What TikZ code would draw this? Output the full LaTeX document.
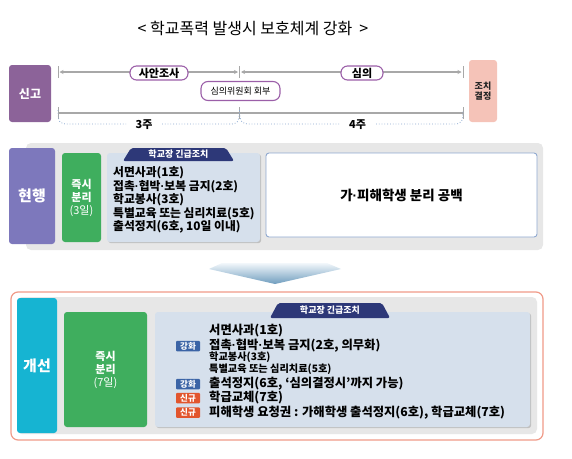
\documentclass[tikz,border=0pt]{standalone}
\usepackage{fontspec}
\setmainfont{Noto Sans CJK KR}
\newfontfamily\dotfont{Liberation Sans}
\newcommand\mdot{{\dotfont ·}}
\usetikzlibrary{shadows,arrows.meta}
\definecolor{singo}{HTML}{8C6399}
\definecolor{jochi}{HTML}{F5C3B8}
\definecolor{pillc}{HTML}{9B5FA8}
\definecolor{linec}{HTML}{A8A8A8}
\definecolor{hyeon}{HTML}{7D78BC}
\definecolor{greenc}{HTML}{3FAE5E}
\definecolor{lblue}{HTML}{D6E0EC}
\definecolor{navy}{HTML}{2D3878}
\definecolor{wborder}{HTML}{8FA8CF}
\definecolor{graybg}{HTML}{E7E7E7}
\definecolor{cyanc}{HTML}{16B4D2}
\definecolor{salmon}{HTML}{F09A88}
\definecolor{ganghwa}{HTML}{3B64A6}
\definecolor{singyu}{HTML}{E2552D}
\definecolor{bracec}{HTML}{8AA8D0}
\definecolor{arrtop}{HTML}{F2F7FB}
\definecolor{arrbot}{HTML}{6F9DBE}
\begin{document}
\begin{tikzpicture}[x=1pt,y=-1pt,
  fbox/.style={rounded corners=3pt, inner sep=0pt, align=center, text=white},
  pill/.style={draw=pillc, line width=1.1pt, fill=white, rounded corners=6.5pt, inner sep=0pt},
  tagbox/.style={text=white, font=\bfseries\fontsize{8.5}{9}\selectfont, minimum width=24pt, minimum height=10.5pt, inner sep=0pt, rounded corners=1pt},
  item/.style={anchor=west, inner sep=0pt, font=\bfseries\fontsize{11.8}{12}\selectfont},
  itemb/.style={anchor=west, inner sep=0pt, font=\bfseries\fontsize{12.3}{13}\selectfont},
  smitem/.style={anchor=west, inner sep=0pt, font=\bfseries\fontsize{10.2}{11}\selectfont},
  gline/.style={draw=linec, line width=1.6pt},
  tick/.style={draw=linec, line width=1pt},
  brc/.style={draw=bracec, line width=0.8pt, dotted},
  lbox/.style={fill=lblue, rounded corners=3pt, inner sep=0pt, drop shadow={shadow xshift=1.2pt, shadow yshift=-1.2pt, fill=black!35, opacity=0.6}},
  bannertxt/.style={text=white, font=\bfseries\fontsize{9}{10}\selectfont, inner sep=0pt}
]
\useasboundingbox (0,0) rectangle (572,458);
% title
\node[font=\fontsize{16}{18}\selectfont] (title) at (253,28) {<\ 학교폭력 발생시 보호체계 강화\ \ >};

% ===== top timeline =====
\node[fbox, fill=singo, minimum width=42pt, minimum height=57pt, font=\bfseries\fontsize{12}{14}\selectfont] (singo) at (30,93.5) {신고};
\node[fbox, fill=jochi, minimum width=28pt, minimum height=62pt, text=black!85, font=\bfseries\fontsize{9}{10.5}\selectfont] (jochi) at (483,91) {조치\\결정};

\coordinate (a1) at (58,72);
\coordinate (a2) at (239.5,72);
\coordinate (a3) at (463,72);
\coordinate (b1) at (58,113);
\coordinate (b2) at (239.5,113);
\coordinate (b3) at (463,113);
\draw[tick] ([yshift=-6pt]a1) -- ([yshift=6pt]a1);
\draw[tick] ([yshift=-6pt]a2) -- ([yshift=6pt]a2);
\draw[tick] ([yshift=-6pt]a3) -- ([yshift=6pt]a3);
\draw[draw=linec, line width=1.2pt, {Stealth[length=4pt,width=4pt]}-{Stealth[length=4pt,width=4pt]}] ([xshift=1.5pt]a1) -- ([xshift=-1.5pt]a2);
\draw[draw=linec, line width=1.2pt, {Stealth[length=4pt,width=4pt]}-{Stealth[length=4pt,width=4pt]}] ([xshift=1.5pt]a2) -- ([xshift=-1.5pt]a3);
\node[pill, minimum width=58pt, minimum height=14pt, font=\bfseries\fontsize{11}{12}\selectfont] (sa) at (159,73) {사안조사};
\node[pill, minimum width=42pt, minimum height=14pt, font=\bfseries\fontsize{11}{12}\selectfont] (sim) at (362,73) {심의};
\node[pill, minimum width=79pt, minimum height=19pt, rounded corners=7pt, font=\fontsize{9}{10}\selectfont] (hoebu) at (240.5,91) {심의위원회 회부};

\draw[tick] ([yshift=-6pt]b1) -- ([yshift=6pt]b1);
\draw[tick] ([yshift=-6pt]b2) -- ([yshift=6pt]b2);
\draw[tick] ([yshift=-6pt]b3) -- ([yshift=6pt]b3);
\draw[gline] (b1) -- (b3);
\node[inner sep=0pt, font=\bfseries\fontsize{11}{12}\selectfont] (w3) at (144,125) {3주};
\node[inner sep=0pt, font=\bfseries\fontsize{11}{12}\selectfont] (w4) at (357.5,125) {4주};
\draw[brc] ([yshift=3pt]b1) .. controls (58,123) and (60,124) .. (68,124) -- (126,124);
\draw[brc] (162,124) -- (230,124) .. controls (237,124) and (239,123) .. ([yshift=3pt]b2);
\draw[brc] ([yshift=3pt]b2) .. controls (240,123) and (242,124) .. (250,124) -- (340,124);
\draw[brc] (376,124) -- (453,124) .. controls (461,124) and (463,123) .. ([yshift=3pt]b3);

% ===== current (현행) =====
\node[fill=graybg, rounded corners=5pt, minimum width=517pt, minimum height=107pt, inner sep=0pt] (bg1) at (284.5,196.5) {};
\node[fbox, fill=hyeon, minimum width=46pt, minimum height=96pt, font=\bfseries\fontsize{15}{17}\selectfont] (hyeon) at (32,196) {현행};
\node[fbox, fill=greenc, minimum width=39pt, minimum height=89pt, font=\bfseries\fontsize{11}{13}\selectfont] (sep1) at (81.5,197.5) {즉시\\분리\\{\mdseries(3일)}};
\node[lbox, minimum width=153pt, minimum height=89pt] (list1) at (183.5,197.5) {};
\fill[navy, rounded corners=2pt] (123,161) -- (131,148) -- (226,148) -- (234,161) -- cycle;
\node[bannertxt] (ban1) at (178.5,154.5) {학교장 긴급조치};
\node[item] (i11) at (113,173) {서면사과(1호)};
\node[item] (i12) at (113,186.5) {접촉\mdot 협박\mdot 보복 금지(2호)};
\node[item] (i13) at (113,200) {학교봉사(3호)};
\node[item] (i14) at (113,213.5) {특별교육 또는 심리치료(5호)};
\node[item] (i15) at (113,227) {출석정지(6호, 10일 이내)};
\node[draw=wborder, line width=0.9pt, fill=white, rounded corners=3pt, minimum width=271pt, minimum height=84pt, inner sep=0pt, font=\bfseries\fontsize{13.5}{15}\selectfont] (gap) at (401.5,195) {가\mdot 피해학생 분리 공백};

% ===== arrow =====
\shade[top color=arrtop, bottom color=arrbot] (222,263) -- (327,263) -- (341,269) -- (275,284) -- (209,269) -- cycle;

% ===== improved (개선) =====
\node[draw=salmon, line width=1.2pt, fill=white, rounded corners=7pt, minimum width=532pt, minimum height=148pt, inner sep=0pt] (outer) at (277,366) {};
\node[fill=graybg, rounded corners=5pt, minimum width=520pt, minimum height=137pt, inner sep=0pt] (bg2) at (277,365.5) {};
\node[fbox, fill=cyanc, minimum width=40pt, minimum height=135pt, font=\bfseries\fontsize{15}{17}\selectfont] (gaeseon) at (37,365.5) {개선};
\node[fbox, fill=greenc, minimum width=83pt, minimum height=115pt, font=\bfseries\fontsize{11}{13}\selectfont] (sep2) at (105.5,369.5) {즉시\\분리\\{\mdseries(7일)}};
\node[lbox, minimum width=375pt, minimum height=115pt] (list2) at (342.5,369.5) {};
\fill[navy, rounded corners=2pt] (270,318) -- (278,303) -- (382,303) -- (390,318) -- cycle;
\node[bannertxt] (ban2) at (330,310.5) {학교장 긴급조치};
\node[itemb] (i21) at (209,331) {서면사과(1호)};
\node[tagbox, fill=ganghwa] (t1) at (188,346) {강화};
\node[itemb] (i22) at (209,346) {접촉\mdot 협박\mdot 보복 금지(2호, 의무화)};
\node[smitem] (i23) at (209,357.5) {학교봉사(3호)};
\node[smitem] (i24) at (209,369) {특별교육 또는 심리치료(5호)};
\node[tagbox, fill=ganghwa] (t2) at (188,384) {강화};
\node[itemb] (i25) at (209,384) {출석정지(6호, ‘심의결정시’까지 가능)};
\node[tagbox, fill=singyu] (t3) at (188,398) {신규};
\node[itemb] (i26) at (209,398) {학급교체(7호)};
\node[tagbox, fill=singyu] (t4) at (188,412.5) {신규};
\node[itemb] (i27) at (209,412.5) {피해학생 요청권 : 가해학생 출석정지(6호), 학급교체(7호)};
\end{tikzpicture}
\end{document}
